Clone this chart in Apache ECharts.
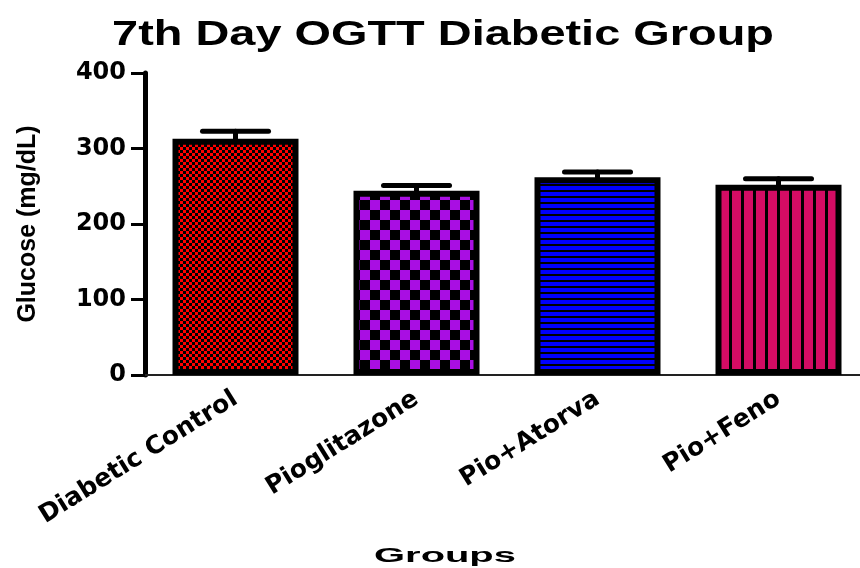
<!DOCTYPE html>
<html>
<head>
<meta charset="utf-8">
<script src="https://cdn.jsdelivr.net/npm/echarts@6/dist/echarts.min.js"></script>
<style>
  html, body { margin: 0; padding: 0; background: #fff; }
  #chart { width: 860px; height: 568px; }
</style>
</head>
<body>
<div id="chart"></div>
<script>
// data
var groups = ['Diabetic Control', 'Pioglitazone', 'Pio+Atorva', 'Pio+Feno'];
var glucose = [313, 244, 262, 252];
var sem = [10, 7, 7, 8];
var yTicks = [0, 100, 200, 300, 400];

// fill patterns, one per bar
function makePattern(kind) {
  var c = document.createElement('canvas');
  var ctx;
  if (kind === 'redCheck') {
    c.width = 6; c.height = 6; ctx = c.getContext('2d');
    ctx.fillStyle = '#ff0000'; ctx.fillRect(0, 0, 6, 6);
    ctx.fillStyle = '#000'; ctx.fillRect(0, 0, 3, 3); ctx.fillRect(3, 3, 3, 3);
  } else if (kind === 'purpleCheck') {
    c.width = 20; c.height = 20; ctx = c.getContext('2d');
    ctx.fillStyle = '#a90ee3'; ctx.fillRect(0, 0, 20, 20);
    ctx.fillStyle = '#000'; ctx.fillRect(0, 0, 10, 10); ctx.fillRect(10, 10, 10, 10);
  } else if (kind === 'blueLines') {
    c.width = 4; c.height = 6; ctx = c.getContext('2d');
    ctx.fillStyle = '#0000ff'; ctx.fillRect(0, 0, 4, 6);
    ctx.fillStyle = '#000'; ctx.fillRect(0, 4, 4, 2);
  } else {
    c.width = 12; c.height = 4; ctx = c.getContext('2d');
    ctx.fillStyle = '#d40c64'; ctx.fillRect(0, 0, 12, 4);
    ctx.fillStyle = '#000'; ctx.fillRect(9, 0, 3, 4);
  }
  return { image: c, repeat: 'repeat' };
}
var fills = ['redCheck', 'purpleCheck', 'blueLines', 'pinkLines'];

var barData = glucose.map(function (v, i) {
  return { value: v, itemStyle: { color: makePattern(fills[i]) } };
});
var errData = glucose.map(function (v, i) { return [i, v, sem[i]]; });

var arial = 'Liberation Sans, Arial, sans-serif';
var wide = 'DejaVu Sans, sans-serif';
var chart = echarts.init(document.getElementById('chart'));

var option = {
  animation: false,
  // the original figure's text is stretched sideways, so these two are scaled in x
  graphic: [
    {
      type: 'text', x: 443, y: 35, scaleX: 1.34,
      style: { text: '7th Day OGTT Diabetic Group', x: 0, y: 0, align: 'center', verticalAlign: 'middle',
        fontFamily: arial, fontWeight: 'bold', fontSize: 35, fill: '#000' }
    },
    {
      type: 'text', x: 445, y: 556, scaleX: 1.9,
      style: { text: 'Groups', x: 0, y: 0, align: 'center', verticalAlign: 'middle',
        fontFamily: arial, fontWeight: 'bold', fontSize: 21, fill: '#000' }
    }
  ],
  grid: { left: 145, right: -9, top: 73, bottom: 193, outerBoundsMode: 'none' },
  xAxis: {
    type: 'category',
    data: groups,
    axisLine: { lineStyle: { color: '#222', width: 2 } },
    axisTick: { alignWithLabel: true, length: 10, lineStyle: { color: '#000', width: 4 } },
    axisLabel: { rotate: 32, margin: 22, fontFamily: wide, fontWeight: 'bold', fontSize: 25, color: '#000' }
  },
  yAxis: {
    type: 'value',
    min: 0, max: 400, interval: 100,
    name: 'Glucose (mg/dL)',
    nameLocation: 'middle',
    nameGap: 104,
    nameTextStyle: { fontFamily: arial, fontWeight: 'bold', fontSize: 25, color: '#000' },
    axisLine: { show: true, lineStyle: { color: '#000', width: 5 } },
    axisTick: { show: true, length: 14, lineStyle: { color: '#000', width: 3 } },
    axisLabel: {
      margin: 19, fontFamily: wide, fontWeight: 'bold', fontSize: 24, color: '#000',
      formatter: function (v) { return yTicks.indexOf(v) >= 0 ? String(v) : ''; }
    },
    splitLine: { show: false }
  },
  series: [
    {
      type: 'bar',
      data: barData,
      barWidth: 126,
      itemStyle: { borderColor: '#000', borderWidth: 6 },
      z: 2
    },
    {
      type: 'custom',
      data: errData,
      z: 3,
      renderItem: function (params, api) {
        var idx = api.value(0);
        var base = api.coord([idx, api.value(1)]);
        var top = api.coord([idx, api.value(1) + api.value(2)]);
        var style = { stroke: '#000', lineWidth: 5, lineCap: 'round' };
        return {
          type: 'group',
          children: [
            { type: 'line', shape: { x1: base[0], y1: base[1], x2: top[0], y2: top[1] }, style: style },
            { type: 'line', shape: { x1: top[0] - 33, y1: top[1], x2: top[0] + 33, y2: top[1] }, style: style }
          ]
        };
      }
    }
  ]
};
chart.setOption(option);
</script>
</body>
</html>
